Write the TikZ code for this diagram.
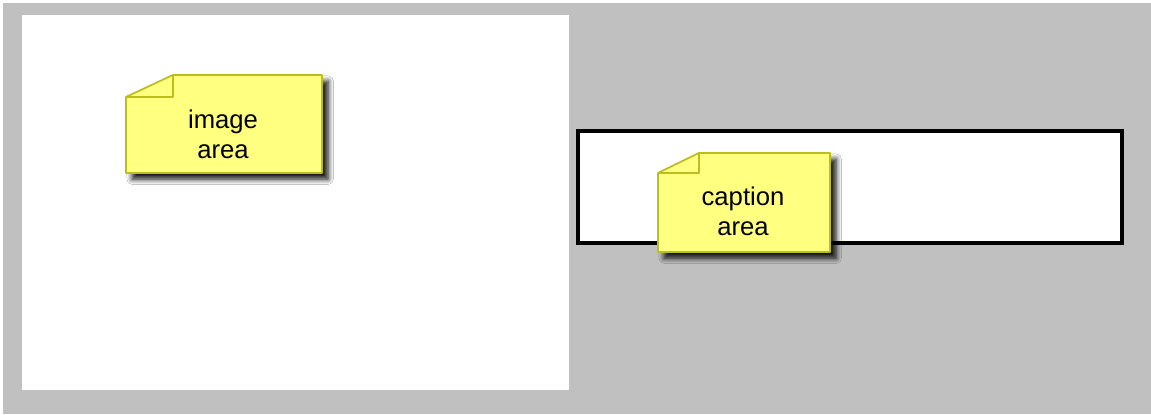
\documentclass[tikz,border=0pt]{standalone}
\usepackage{fontspec}
\setmainfont{Liberation Sans}
\usepackage{tikz}
\usetikzlibrary{positioning}
\usetikzlibrary{shadows.blur}
\definecolor{panelgray}{HTML}{C0C0C0}
\definecolor{notefill}{HTML}{FFFF80}
\definecolor{noteline}{HTML}{BDBD1E}

\begin{document}
\begin{tikzpicture}[
  x=0.02cm, y=-0.02cm,
  note/.style={draw=noteline,fill=notefill,line width=0.9pt,line join=round,
    blur shadow={shadow xshift=3.5pt,shadow yshift=-3.5pt,shadow blur radius=3pt,
      shadow blur steps=8,shadow opacity=95}},
  fold/.style={draw=noteline,fill=notefill,line width=0.9pt,line join=round},
  notetext/.style={font=\fontsize{14.6}{17}\selectfont,align=center,inner sep=0pt}
]
  \useasboundingbox (0,0) rectangle (1151,414);
  \fill[white] (0,0) rectangle (1151,414);
  \fill[panelgray] (3,3) rectangle (1151,414);

  % image area
  \fill[white] (22,15) rectangle (569,390);

  % caption area
  \draw[black,line width=1.9pt,fill=white] (578,131) rectangle (1122,243);

  % notes
  \draw[note] (126,97) -- (173,75) -- (322,75) -- (322,173) -- (126,173) -- cycle;
  \draw[fold] (126,97) -- (173,75) -- (173,97) -- cycle;
  \node[notetext] (imagearea) at (223,134) {image\\area};

  \draw[note] (658,173) -- (699,153) -- (830,153) -- (830,252) -- (658,252) -- cycle;
  \draw[fold] (658,173) -- (699,153) -- (699,173) -- cycle;
  \node[notetext] (captionarea) at (743,211) {caption\\area};
\end{tikzpicture}
\end{document}
